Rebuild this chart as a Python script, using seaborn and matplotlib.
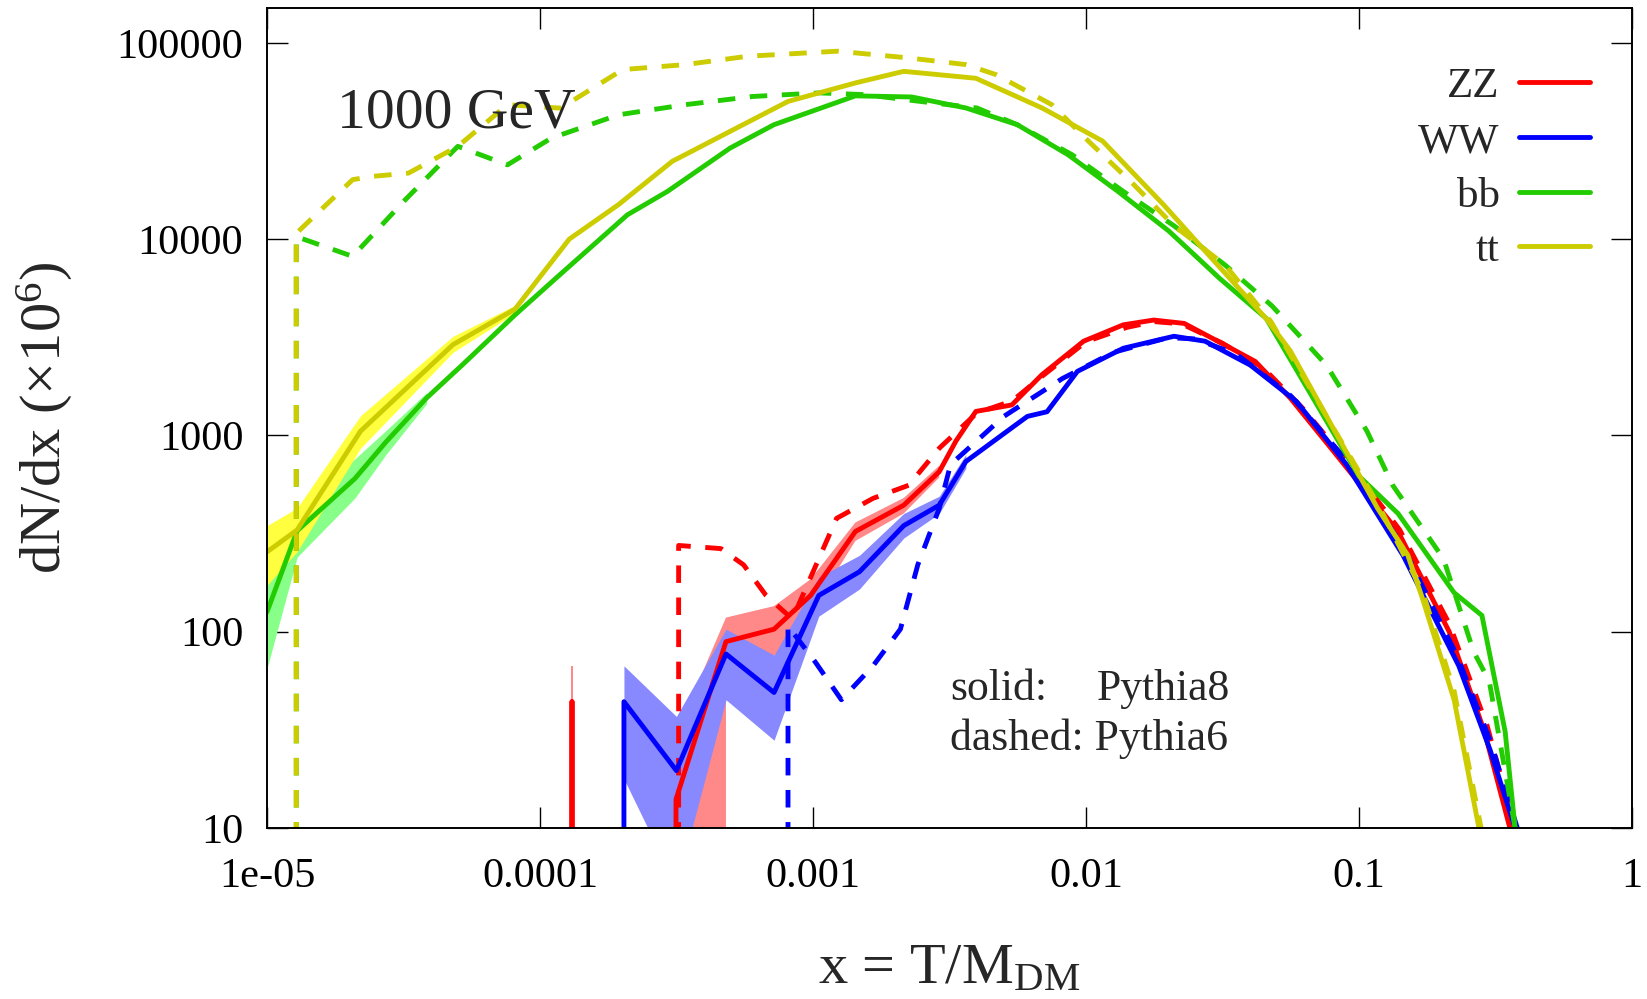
import numpy as np
import pandas as pd
import matplotlib
matplotlib.use("Agg")
import matplotlib.pyplot as plt
import seaborn as sns

sns.set_style("ticks")
plt.rcParams["font.family"] = ["Liberation Serif", "DejaVu Serif"]
plt.rcParams["mathtext.fontset"] = "custom"
plt.rcParams["mathtext.rm"] = "Liberation Serif"
plt.rcParams["mathtext.it"] = "Liberation Serif:italic"
plt.rcParams["mathtext.bf"] = "Liberation Serif:bold"

# ---------------------------------------------------------------
# Axis ticks
# ---------------------------------------------------------------
x_ticks = [1e-5, 1e-4, 1e-3, 1e-2, 1e-1, 1.0]
x_tick_labels = ["1e-05", "0.0001", "0.001", "0.01", "0.1", "1"]
y_ticks = [10, 100, 1000, 10000, 100000]
y_tick_labels = ["10", "100", "1000", "10000", "100000"]

channels = ["ZZ", "WW", "bb", "tt"]

# ---------------------------------------------------------------
# dN/dx (x 1e6) for a 1000 GeV dark-matter particle
# ---------------------------------------------------------------
# ZZ, Pythia8
zz_p8_x = [1.31e-4, 1.31e-4, 1.31e-4, 3.12e-4, 3.15e-4, 4.8e-4, 7.2e-4, 9.8e-4,
           1.43e-3, 2.15e-3, 2.9e-3, 3.34e-3, 3.95e-3, 5.35e-3, 6.9e-3, 9.8e-3,
           1.37e-2, 1.77e-2, 2.29e-2, 3.24e-2, 4.17e-2, 5.6e-2, 7.9e-2, 0.139,
           0.214, 0.288, 0.357, 0.37]
zz_p8_y = [0.01, 44, 0.01, 0.01, 14, 89, 103, 153,
           324, 441, 653, 937, 1325, 1430, 2040, 3020,
           3660, 3870, 3720, 2880, 2380, 1550, 860, 324,
           100, 31, 10, 8]
zz_band_x = [1.30e-4, 1.32e-4, 2.0e-4, 3.15e-4, 4.8e-4, 4.8e-4, 7.2e-4, 9.8e-4,
             1.43e-3, 2.15e-3, 2.9e-3]
zz_band_lo = [0.01, 0.01, np.nan, 0.01, 0.01, 70, 75, 125, 290, 400, 610]
zz_band_hi = [67, 67, np.nan, 30, 118, 118, 135, 185, 360, 480, 700]

# ZZ, Pythia6
zz_p6_x = [3.22e-4, 3.22e-4, 4.6e-4, 5.57e-4, 6.73e-4, 8.4e-4, 1.22e-3, 1.66e-3,
           2.24e-3, 2.9e-3, 3.98e-3, 5.37e-3, 6.9e-3, 1.0e-2, 1.41e-2, 1.78e-2,
           2.24e-2, 3.16e-2, 4.47e-2, 6.3e-2, 0.1, 0.141, 0.214, 0.295, 0.372, 0.38]
zz_p6_y = [0.01, 275, 265, 219, 153, 116, 378, 478,
           557, 860, 1300, 1500, 2000, 3000, 3550, 3800,
           3700, 2950, 2200, 1350, 620, 330, 110, 33, 10, 8]

# WW, Pythia8
ww_p8_x = [2.03e-4, 2.03e-4, 3.16e-4, 4.8e-4, 7.2e-4, 1.05e-3, 1.48e-3, 2.15e-3,
           2.9e-3, 3.63e-3, 4.9e-3, 6.1e-3, 7.2e-3, 9.3e-3, 1.37e-2, 2.1e-2,
           2.73e-2, 4.0e-2, 5.9e-2, 9.0e-2, 0.145, 0.232, 0.302, 0.373, 0.38]
ww_p8_y = [0.01, 44, 19.6, 77, 49, 153, 202, 347,
           441, 736, 1000, 1250, 1320, 2120, 2780, 3200,
           3020, 2280, 1490, 710, 245, 67, 25, 10, 8]
ww_band_x = [2.03e-4, 3.16e-4, 4.8e-4, 7.2e-4, 1.05e-3, 1.48e-3, 2.15e-3,
             2.9e-3, 3.63e-3]
ww_band_lo = [17.8, 5, 45, 28, 120, 165, 300, 400, 680]
ww_band_hi = [67, 37, 103, 76, 190, 245, 400, 490, 800]

# WW, Pythia6
ww_p6_x = [8.1e-4, 8.1e-4, 1.02e-3, 1.27e-3, 1.66e-3, 2.09e-3, 2.42e-3, 2.9e-3,
           3.19e-3, 5.0e-3, 6.35e-3, 8.2e-3, 1.26e-2, 2.0e-2, 2.51e-2, 3.55e-2,
           5.6e-2, 8.9e-2, 0.145, 0.229, 0.302, 0.38, 0.385]
ww_p6_y = [0.01, 107, 70, 45, 67, 103, 219, 425,
           710, 1250, 1550, 1950, 2650, 3150, 3100, 2600,
           1600, 760, 270, 75, 28, 10, 8]

# bb, Pythia8
bb_p8_x = [1.0e-5, 1.29e-5, 2.1e-5, 2.73e-5, 3.84e-5, 5.2e-5, 8.1e-5, 1.18e-4,
           2.09e-4, 2.93e-4, 4.97e-4, 7.2e-4, 1.43e-3, 2.3e-3, 3.63e-3, 5.6e-3,
           8.6e-3, 1.31e-2, 2.01e-2, 3.09e-2, 4.57e-2, 0.1, 0.139, 0.223,
           0.282, 0.343, 0.373, 0.38]
bb_p8_y = [126, 327, 603, 927, 1550, 2290, 4110, 6570,
           13300, 17500, 29100, 38300, 53700, 53000, 46600, 38300,
           26900, 17500, 11000, 6300, 3950, 620, 400, 158,
           121, 31, 10, 8]
bb_band_x = [1.0e-5, 1.29e-5, 2.1e-5, 2.73e-5, 3.84e-5]
bb_band_lo = [65, 240, 480, 800, 1450]
bb_band_hi = [190, 420, 760, 1060, 1650]

# bb, Pythia6
bb_p6_x = [1.28e-5, 1.28e-5, 2.06e-5, 3.2e-5, 5.0e-5, 7.6e-5, 1.1e-4, 1.94e-4,
           3.4e-4, 6.0e-4, 1.05e-3, 1.54e-3, 2.5e-3, 3.98e-3, 5.6e-3, 8.9e-3,
           1.37e-2, 2.1e-2, 3.24e-2, 4.8e-2, 7.6e-2, 0.107, 0.133, 0.204,
           0.263, 0.30, 0.373, 0.38]
bb_p6_y = [0.01, 10300, 8170, 15800, 29700, 23900, 32700, 43000,
           48400, 53300, 55600, 54500, 50200, 46600, 38300, 26900,
           17500, 11700, 7360, 4570, 2280, 1050, 556, 235,
           79, 56, 10, 8]

# tt, Pythia8
tt_p8_x = [1.0e-5, 1.29e-5, 2.2e-5, 4.8e-5, 8.1e-5, 1.28e-4, 1.94e-4, 3.05e-4,
           4.97e-4, 8.1e-4, 1.43e-3, 2.15e-3, 3.95e-3, 6.9e-3, 1.15e-2, 1.93e-2,
           2.73e-2, 4.56e-2, 5.6e-2, 0.117, 0.151, 0.171, 0.223, 0.275, 0.28]
tt_p8_y = [255, 330, 1050, 2900, 4400, 10000, 15000, 24900,
           35400, 50300, 62500, 71600, 66000, 46600, 31600, 14900,
           8700, 3950, 2700, 425, 245, 147, 45, 10, 8]
tt_band_x = [1.0e-5, 1.29e-5, 2.2e-5, 4.8e-5, 8.1e-5]
tt_band_lo = [172, 256, 860, 2650, 4200]
tt_band_hi = [347, 427, 1260, 3200, 4600]

# tt, Pythia6
tt_p6_x = [1.28e-5, 1.28e-5, 2.06e-5, 2.45e-5, 3.3e-5, 5.0e-5, 7.6e-5, 1.19e-4,
           2.01e-4, 3.41e-4, 5.78e-4, 1.23e-3, 2.24e-3, 3.63e-3, 4.68e-3, 7.5e-3,
           1.02e-2, 1.5e-2, 2.1e-2, 3.24e-2, 4.76e-2, 0.117, 0.171, 0.223, 0.28, 0.285]
tt_p6_y = [0.01, 10700, 20100, 20900, 21700, 29700, 48400, 46500,
           73100, 77500, 85500, 90700, 83800, 77500, 68900, 48400,
           31600, 18900, 11700, 7360, 3800, 450, 160, 50, 10, 8]

# ---------------------------------------------------------------
# Colours
# ---------------------------------------------------------------
line_colors = {"ZZ": "#ff0000", "WW": "#0000ff", "bb": "#22cc00", "tt": "#cccc00"}
band_colors = {"ZZ": "#ff8888", "WW": "#8888ff", "bb": "#88ff88", "tt": "#ffff40"}

fig = plt.figure(figsize=(16.47, 9.99), dpi=100)
ax = fig.add_axes([0.1621, 0.1712, 0.8288, 0.8205])
ax.set_xscale("log")
ax.set_yscale("log")

# uncertainty bands of the Pythia8 curves
for name, bx, lo, hi in [("ZZ", zz_band_x, zz_band_lo, zz_band_hi),
                         ("WW", ww_band_x, ww_band_lo, ww_band_hi),
                         ("bb", bb_band_x, bb_band_lo, bb_band_hi),
                         ("tt", tt_band_x, tt_band_lo, tt_band_hi)]:
    ax.fill_between(bx, lo, hi, color=band_colors[name], lw=0, zorder=1)

LW = 3.5
DASH = (0, (3.6, 3.0))


def curve(x, y, name, dashed):
    df = pd.DataFrame({"x": x, "y": y})
    sns.lineplot(data=df, x="x", y="y", ax=ax, color=line_colors[name],
                 linewidth=LW, estimator=None, sort=False, legend=False,
                 linestyle=DASH if dashed else "-", zorder=3)
    return ax.lines[-1]


handles = []
for name, (p8x, p8y, p6x, p6y) in {
        "ZZ": (zz_p8_x, zz_p8_y, zz_p6_x, zz_p6_y),
        "WW": (ww_p8_x, ww_p8_y, ww_p6_x, ww_p6_y),
        "bb": (bb_p8_x, bb_p8_y, bb_p6_x, bb_p6_y),
        "tt": (tt_p8_x, tt_p8_y, tt_p6_x, tt_p6_y)}.items():
    handles.append(curve(p8x, p8y, name, False))
    curve(p6x, p6y, name, True)

ax.set_xlim(1e-5, 1.0)
ax.set_ylim(10, 1.5e5)
ax.set_xticks(x_ticks)
ax.set_xticklabels(x_tick_labels)
ax.set_yticks(y_ticks)
ax.set_yticklabels(y_tick_labels)
ax.xaxis.set_minor_locator(matplotlib.ticker.NullLocator())
ax.yaxis.set_minor_locator(matplotlib.ticker.NullLocator())
ax.tick_params(which="major", direction="in", length=15, width=1.0,
               top=True, right=True, labelsize=30.5, colors="black")
ax.tick_params(axis="x", pad=21)
ax.tick_params(axis="y", pad=17)
for s in ax.spines.values():
    s.set_linewidth(1.4)
    s.set_color("black")
    s.set_zorder(5)

ax.set_xlabel(r"x = T/M$_{\mathrm{DM}}$", fontsize=42)
ax.set_ylabel(r"dN/dx (×10$^{6}$)", fontsize=42)
ax.xaxis.set_label_coords(0.5, -0.141)
ax.yaxis.set_label_coords(-0.1407, 0.5)

ax.text(0.051, 0.855, "1000 GeV", transform=ax.transAxes, fontsize=41.5,
        va="baseline", ha="left")
ax.text(0.5004, 0.1562, "solid:", transform=ax.transAxes, fontsize=31.5,
        va="baseline", ha="left")
ax.text(0.6078, 0.1562, "Pythia8", transform=ax.transAxes, fontsize=31.5,
        va="baseline", ha="left")
ax.text(0.5004, 0.0952, "dashed: Pythia6", transform=ax.transAxes, fontsize=31.5,
        va="baseline", ha="left")

ax.legend(handles=handles, labels=channels, loc="upper right",
          bbox_to_anchor=(0.9692, 0.928), frameon=False, markerfirst=False,
          handlelength=1.65, handletextpad=0.45, labelspacing=0.36,
          borderaxespad=0, borderpad=0, fontsize=31)

fig.savefig("out.png", dpi=100)
